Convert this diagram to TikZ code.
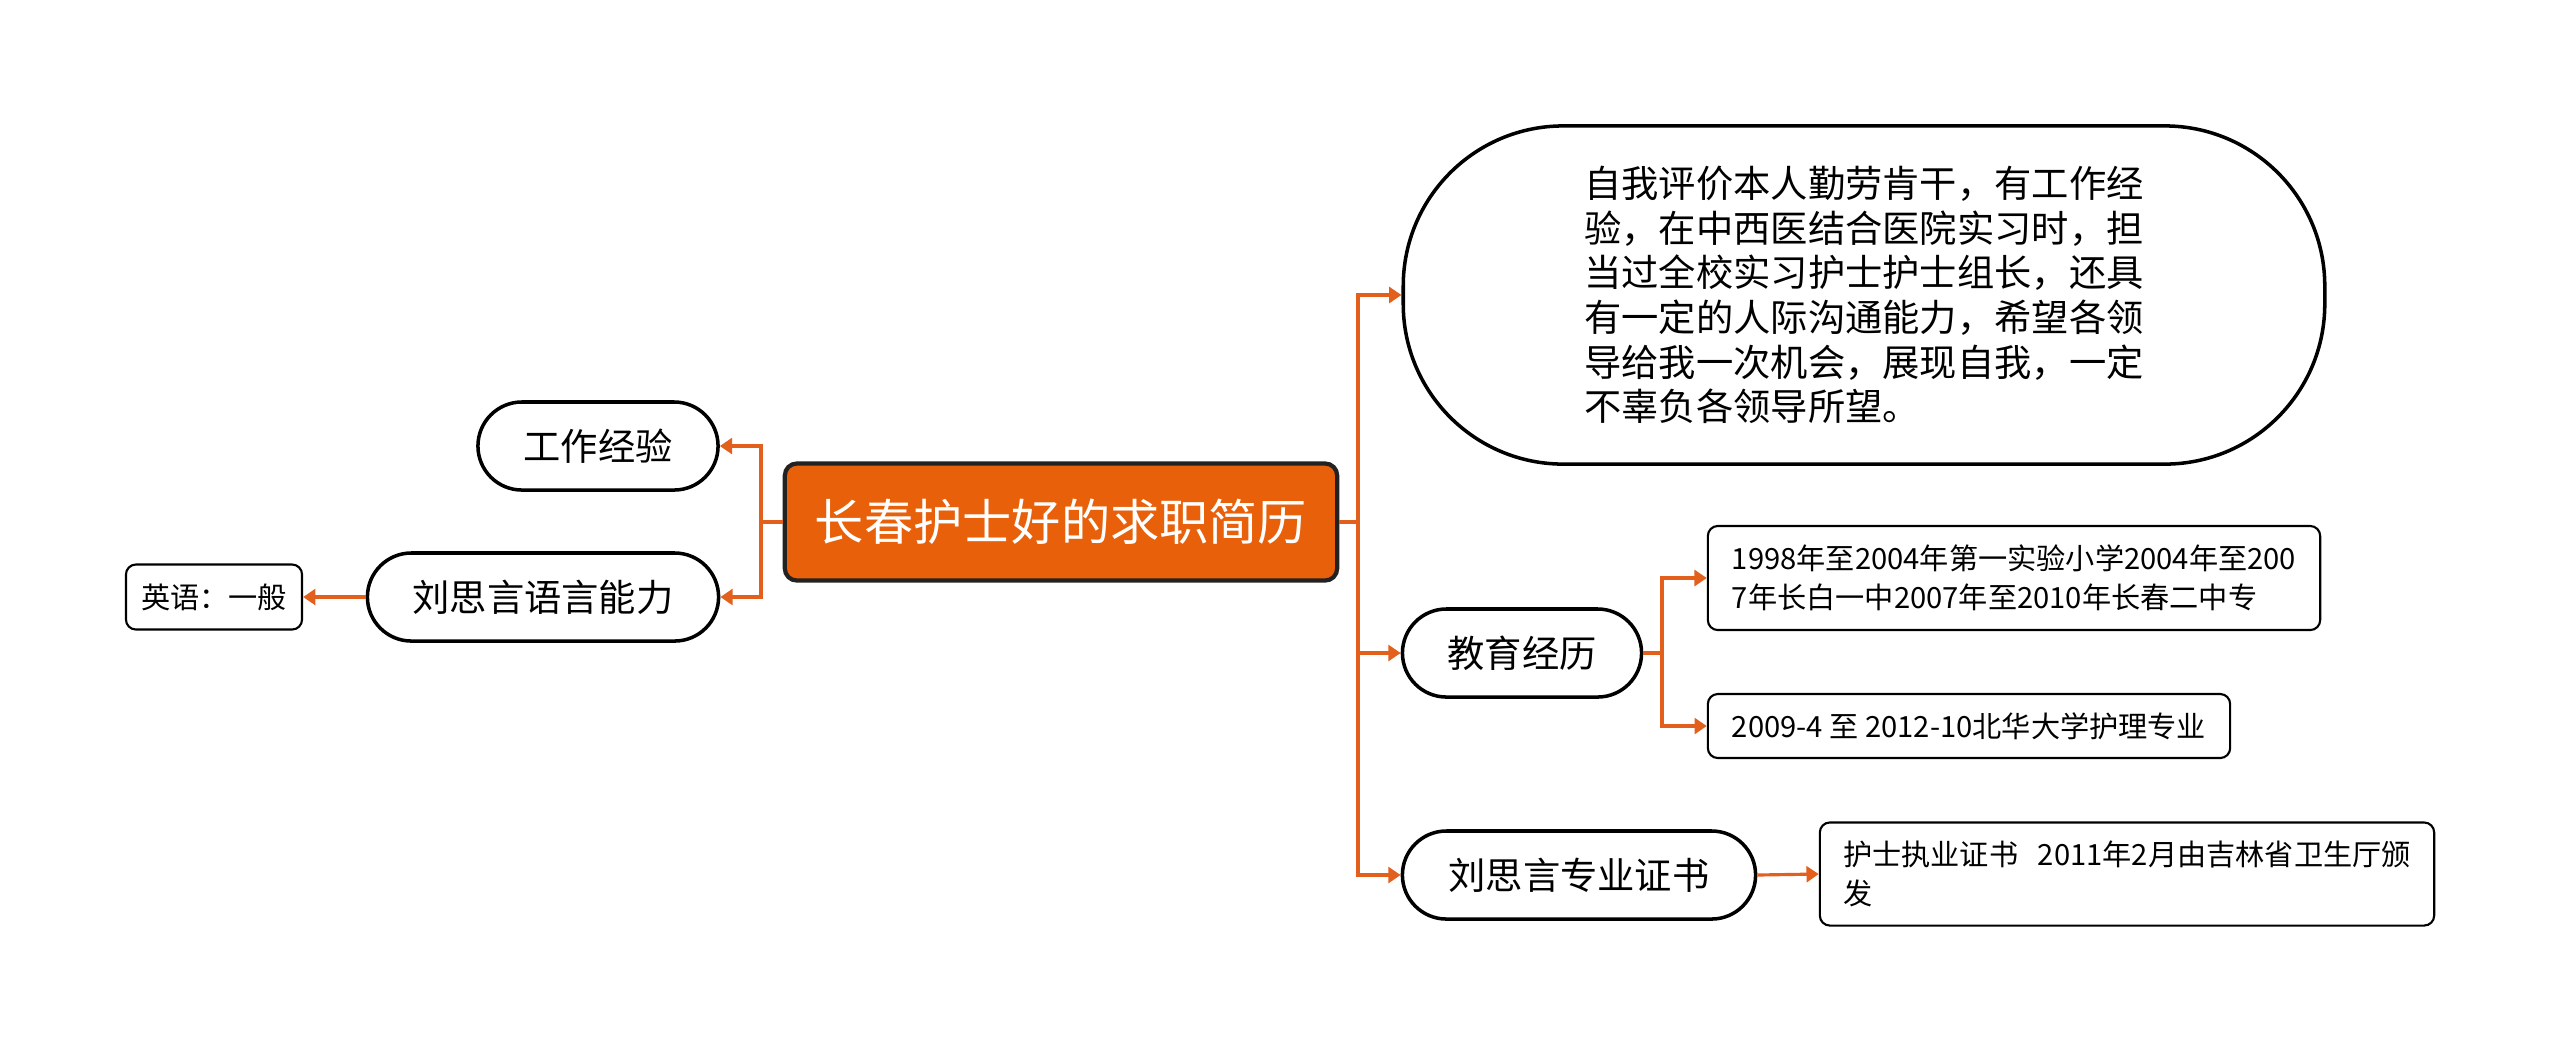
\documentclass[tikz,border=0pt]{standalone}
\usepackage{fontspec}
\newfontfamily\cjk{Noto Sans CJK SC}
\usetikzlibrary{arrows.meta}
\definecolor{rootorange}{HTML}{E8600A}
\definecolor{linkorange}{HTML}{E2601C}
\definecolor{rimgray}{HTML}{222222}
\tikzset{
  rootbox/.style={draw=rimgray, line width=1.2pt, fill=rootorange, rounded corners=0.12cm,
    text=white, font=\cjk\fontsize{14}{16}\selectfont, minimum height=1.17cm, minimum width=5.52cm, inner sep=0pt},
  topicbox/.style={draw=black, line width=1pt, fill=white, font=\cjk\fontsize{10.6}{12.7}\selectfont,
    minimum height=0.88cm, rounded corners=0.44cm, inner sep=0pt, align=left},
  leafbox/.style={draw=black, line width=0.6pt, fill=white, rounded corners=0.1cm,
    font=\cjk\fontsize{8.3}{11}\selectfont, align=left, inner sep=0pt},
  link/.style={draw=linkorange, line width=0.9pt, -{Triangle[length=3.5pt,width=4.5pt]}}
}
\begin{document}
\begin{tikzpicture}[x=0.01cm, y=-0.01cm]
    \useasboundingbox (0,0) rectangle (2560,1053);

    % root
    \node[rootbox] (root) at (1061,522) {长春护士好的求职简历};

    % left side
    \node[topicbox, minimum width=2.40cm] (work) at (598,446) {工作经验};
    \node[topicbox, minimum width=3.51cm] (lang) at (543,597) {刘思言语言能力};
    \node[leafbox, minimum width=1.76cm, minimum height=0.65cm] (eng) at (214,597) {英语：一般};

    % right side
    \node[topicbox, minimum width=9.21cm, minimum height=3.38cm, rounded corners=1.6cm] (self) at (1864,295)
        {自我评价本人勤劳肯干，有工作经\\验，在中西医结合医院实习时，担\\当过全校实习护士护士组长，还具\\有一定的人际沟通能力，希望各领\\导给我一次机会，展现自我，一定\\不辜负各领导所望。};
    \node[topicbox, minimum width=2.39cm] (edu) at (1522,653) {教育经历};
    \node[topicbox, minimum width=3.53cm] (cert) at (1579,875) {刘思言专业证书};

    \node[leafbox, minimum width=6.12cm, minimum height=1.04cm] (school) at (2014,578)
        {1998年至2004年第一实验小学2004年至200\\7年长白一中2007年至2010年长春二中专};
    \node[leafbox, minimum width=5.22cm, minimum height=0.64cm] (college) at (1969,726)
        {2009-4 至 2012-10北华大学护理专业};
    \node[leafbox, minimum width=6.14cm, minimum height=1.03cm] (license) at (2127,874)
        {护士执业证书\ \ \ 2011年2月由吉林省卫生厅颁\\发\hspace*{5.3cm}};

    % connectors
    \coordinate (lspine) at (761,522);
    \coordinate (rspine) at (1358,522);
    \coordinate (espine) at (1662,653);

    \draw[link] (root.west) -- (lspine) |- (work.east);
    \draw[link] (root.west) -- (lspine) |- (lang.east);
    \draw[link] (lang.west) -- (eng.east);

    \draw[link] (root.east) -- (rspine) |- (self.west);
    \draw[link] (root.east) -- (rspine) |- (edu.west);
    \draw[link] (root.east) -- (rspine) |- (cert.west);

    \draw[link] (edu.east) -- (espine) |- (school.west);
    \draw[link] (edu.east) -- (espine) |- (college.west);
    \draw[link] (cert.east) -- (license.west);
\end{tikzpicture}
\end{document}
